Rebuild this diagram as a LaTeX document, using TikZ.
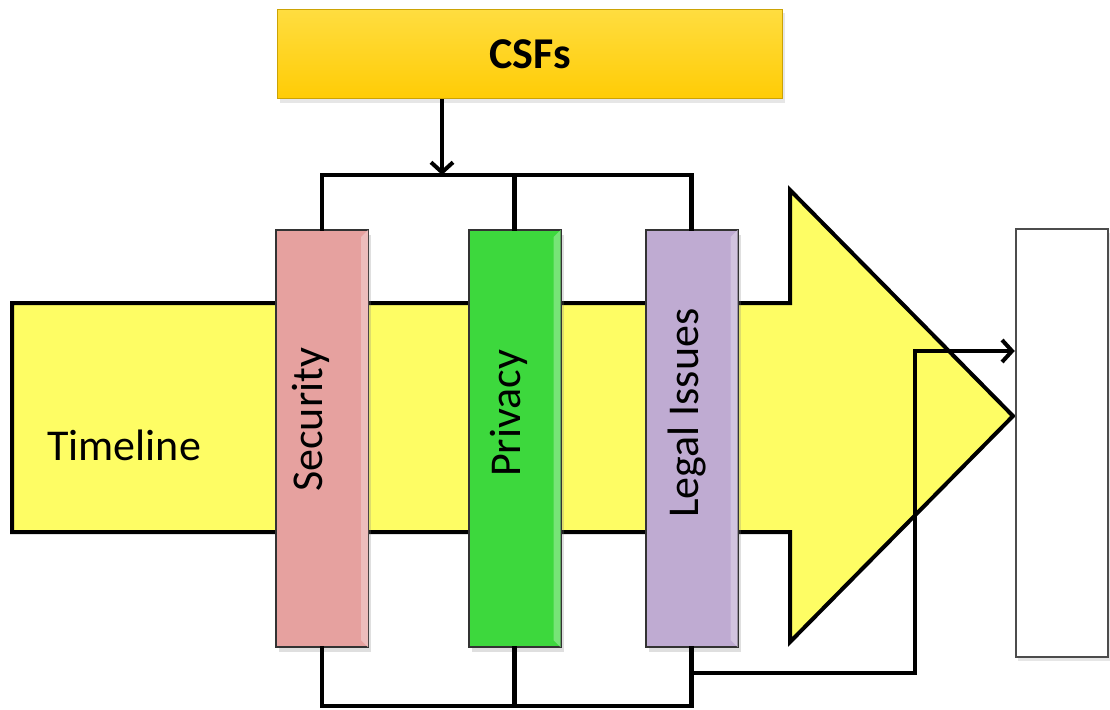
\documentclass[tikz,border=0pt]{standalone}
\usepackage{fontspec}
\setmainfont{Carlito}
\usetikzlibrary{arrows.meta,shadows}
\definecolor{tlyellow}{HTML}{FEFD64}
\definecolor{secpink}{HTML}{E6A19F}
\definecolor{privgreen}{HTML}{3DD83D}
\definecolor{legalpurple}{HTML}{BFABD2}
\definecolor{csfgold}{HTML}{FFCC05}
\definecolor{csflight}{HTML}{FFDD40}
\tikzset{
  bigfont/.style={font=\fontsize{44}{50}\selectfont},
  barbox/.style={draw=black!80, line width=2pt, minimum width=92pt, minimum height=417pt,
    inner sep=0pt, drop shadow={shadow xshift=3pt, shadow yshift=-5pt, opacity=0.25}},
  conn/.style={line width=4.5pt, line cap=rect},
  tip/.style={-{Straight Barb[length=10pt,width=22pt,line width=4pt]}},
  vlabel/.style={bigfont, rotate=90, anchor=base west, inner sep=0pt}
}
\begin{document}
\begin{tikzpicture}[x=1pt,y=-1pt]
\useasboundingbox (0,0) rectangle (1110,709);

% timeline arrow
\draw[line width=4pt, fill=tlyellow, line join=miter]
  (12,303) -- (790,303) -- (790,190) -- (1013,416) -- (790,642) -- (790,532) -- (12,532) -- cycle;
\node[bigfont, anchor=base west, inner sep=0pt] (tl) at (47,460) {Timeline};

% CSFs box
\node[draw=csfgold!80!black, line width=1pt, top color=csflight, bottom color=csfgold,
      minimum width=505pt, minimum height=89pt, inner sep=0pt,
      drop shadow={shadow xshift=2pt, shadow yshift=-4pt, opacity=0.2}]
  (csf) at (530,54) {};
\node[bigfont, font=\fontsize{44}{50}\selectfont\bfseries] (csft) at (csf.center) {CSFs};

% output box
\node[draw=black!70, line width=2.5pt, fill=white, minimum width=92pt, minimum height=428pt,
      inner sep=0pt, drop shadow={shadow xshift=2pt, shadow yshift=-4pt, opacity=0.2}]
  (out) at (1062,443) {};

% bus coordinates
\coordinate (tbus) at (442,175);
\coordinate (bbus) at (516,706);
\coordinate (fb) at (693,673);
\coordinate (elbow) at (915,351);

% feedback line from the bottom bus to the output box
\draw[conn, tip, line cap=butt] (fb) -| (elbow) -- (elbow -| out.west);

% bars
\node[barbox, fill=secpink] (sec) at (322,438.5) {};
\node[barbox, fill=privgreen] (priv) at (514.5,438.5) {};
\node[barbox, fill=legalpurple] (legal) at (691.5,438.5) {};
\foreach \b/\c in {sec/secpink, priv/privgreen, legal/legalpurple}{
  \fill[\c!70!white] ([xshift=-8pt,yshift=-8pt]\b.north east) -- ([xshift=-1pt,yshift=-1pt]\b.north east)
    -- ([xshift=-1pt,yshift=1pt]\b.south east) -- ([xshift=-8pt,yshift=8pt]\b.south east) -- cycle;
}

% bar labels
\node[vlabel] (sect) at (322,492) {Security};
\node[vlabel] (privt) at (520,477) {Privacy};
\node[vlabel] (legalt) at (698,518) {Legal Issues};

% top distribution bus
\draw[conn, tip, line cap=butt] (csf.south -| tbus) -- (tbus);
\draw[conn] (sec.north) |- (tbus) -| (legal.north);
\draw[conn] (priv.north) -- (priv.north |- tbus);

% bottom collection bus
\draw[conn] (sec.south) |- (bbus) -| (legal.south);
\draw[conn] (priv.south) -- (priv.south |- bbus);
\draw[conn] (legal.south) -- (legal.south |- fb);
\end{tikzpicture}
\end{document}
